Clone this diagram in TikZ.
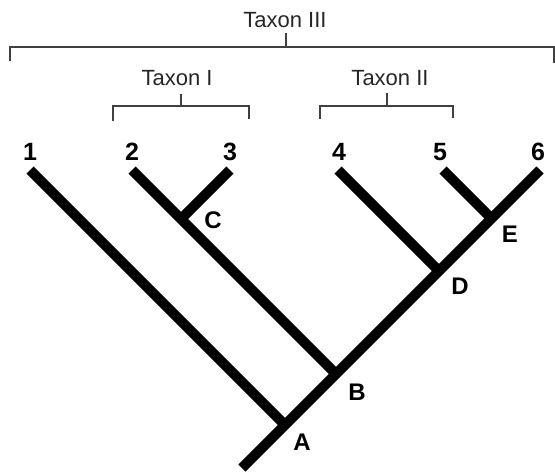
\documentclass[tikz,border=0pt]{standalone}
\usepackage{fontspec}
\setmainfont{Liberation Sans}
\begin{document}
\begin{tikzpicture}[x=1pt,y=-1pt,
  branch/.style={line width=10pt,line cap=butt,black},
  bracket/.style={line width=1.6pt,black!75,line cap=butt,line join=miter},
  taxon/.style={anchor=base,inner sep=0pt,font=\fontsize{22}{22}\selectfont,text=black!85},
  tip/.style={anchor=base,inner sep=0pt,font=\fontsize{25}{25}\selectfont\bfseries},
  junc/.style={anchor=base,inner sep=0pt,font=\fontsize{24}{24}\selectfont\bfseries}]
\useasboundingbox (0,0) rectangle (555,474);

% branch tips and internal nodes
\coordinate (r) at (242,468);
\coordinate (t1) at (30,170);
\coordinate (t2) at (132,170);
\coordinate (t3) at (230,170);
\coordinate (t4) at (338,170);
\coordinate (t5) at (443,170);
\coordinate (t6) at (540,170);
\coordinate (jA) at (285,425);
\coordinate (jB) at (336,374);
\coordinate (jC) at (181,219);
\coordinate (jD) at (439,271);
\coordinate (jE) at (491.5,218.5);

% tree
\draw[branch] (t1) -- (jA);
\draw[branch] (t2) -- (jB);
\draw[branch] (t3) -- (jC);
\draw[branch] (t4) -- (jD);
\draw[branch] (t5) -- (jE);
\draw[branch] (r) -- (t6);

% tip labels
\node[tip] (n1) at (30,160) {1};
\node[tip] (n2) at (132,160) {2};
\node[tip] (n3) at (230,160) {3};
\node[tip] (n4) at (339,160) {4};
\node[tip] (n5) at (440,160) {5};
\node[tip] (n6) at (538,160) {6};

% node labels
\node[junc] (lA) at (302,450) {A};
\node[junc] (lB) at (357,400) {B};
\node[junc] (lC) at (213,228) {C};
\node[junc] (lD) at (460,294) {D};
\node[junc] (lE) at (510,242) {E};

% clade brackets
\draw[bracket] (10,61) -- (10,47) -- (554,47) -- (554,63);
\draw[bracket] (286,33) -- (286,47);
\node[taxon] (tx3) at (285,27) {Taxon III};

\draw[bracket] (113,121) -- (113,106) -- (249,106) -- (249,119);
\draw[bracket] (181,94) -- (181,106);
\node[taxon] (tx1) at (177,85) {Taxon I};

\draw[bracket] (320,119) -- (320,106) -- (453,106) -- (453,118);
\draw[bracket] (387,93) -- (387,106);
\node[taxon] (tx2) at (390,85) {Taxon II};
\end{tikzpicture}
\end{document}
